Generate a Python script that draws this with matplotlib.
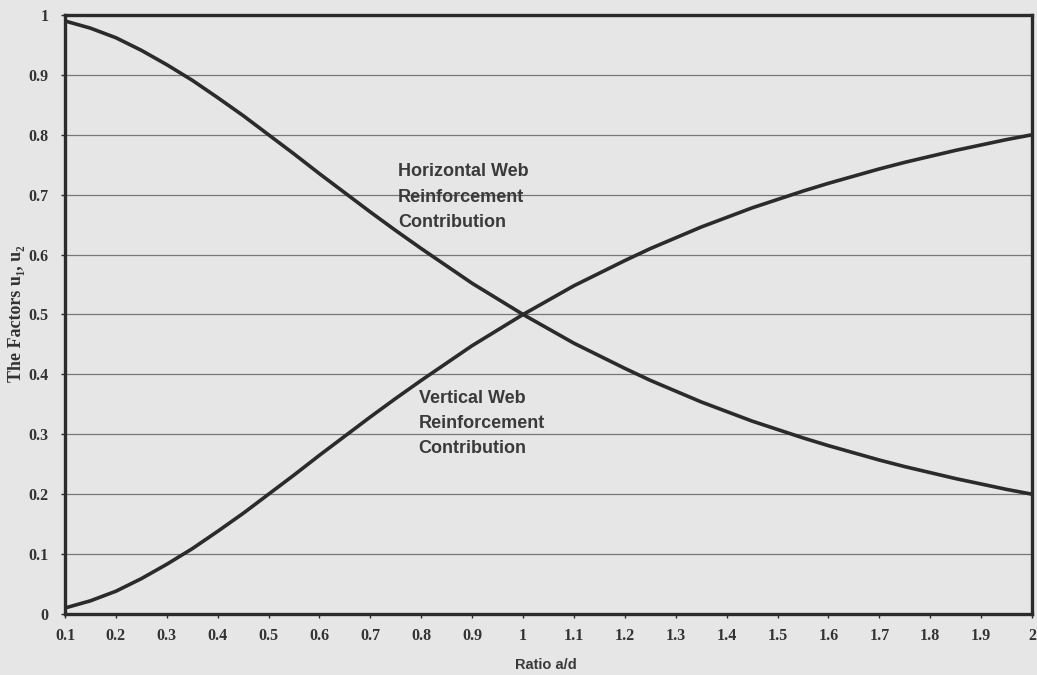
import matplotlib.pyplot as plt

# ratio a/d and the two web reinforcement factors read at each step
ratio = [0.10, 0.15, 0.20, 0.25, 0.30, 0.35, 0.40, 0.45, 0.50, 0.55,
         0.60, 0.65, 0.70, 0.75, 0.80, 0.85, 0.90, 0.95, 1.00, 1.05,
         1.10, 1.15, 1.20, 1.25, 1.30, 1.35, 1.40, 1.45, 1.50, 1.55,
         1.60, 1.65, 1.70, 1.75, 1.80, 1.85, 1.90, 1.95, 2.00]
u1_horizontal = [0.990, 0.978, 0.962, 0.941, 0.917, 0.891, 0.862, 0.832, 0.800, 0.768,
                 0.735, 0.703, 0.671, 0.640, 0.610, 0.581, 0.552, 0.526, 0.500, 0.476,
                 0.452, 0.431, 0.410, 0.390, 0.372, 0.354, 0.338, 0.322, 0.308, 0.294,
                 0.281, 0.269, 0.257, 0.246, 0.236, 0.226, 0.217, 0.208, 0.200]
u2_vertical = [0.010, 0.022, 0.038, 0.059, 0.083, 0.109, 0.138, 0.168, 0.200, 0.232,
               0.265, 0.297, 0.329, 0.360, 0.390, 0.419, 0.448, 0.474, 0.500, 0.524,
               0.548, 0.569, 0.590, 0.610, 0.628, 0.646, 0.662, 0.678, 0.692, 0.706,
               0.719, 0.731, 0.743, 0.754, 0.764, 0.774, 0.783, 0.792, 0.800]

x_ticks = [0.1, 0.2, 0.3, 0.4, 0.5, 0.6, 0.7, 0.8, 0.9, 1.0,
           1.1, 1.2, 1.3, 1.4, 1.5, 1.6, 1.7, 1.8, 1.9, 2.0]
x_labels = ["0.1", "0.2", "0.3", "0.4", "0.5", "0.6", "0.7", "0.8", "0.9", "1",
            "1.1", "1.2", "1.3", "1.4", "1.5", "1.6", "1.7", "1.8", "1.9", "2"]
y_ticks = [0, 0.1, 0.2, 0.3, 0.4, 0.5, 0.6, 0.7, 0.8, 0.9, 1.0]
y_labels = ["0", "0.1", "0.2", "0.3", "0.4", "0.5", "0.6", "0.7", "0.8", "0.9", "1"]

paper = "#e6e6e6"
ink = "#2b2b2b"
serif = ["Liberation Serif", "DejaVu Serif"]
sans = ["Liberation Sans", "DejaVu Sans"]

fig = plt.figure(figsize=(10.37, 6.75), dpi=100, facecolor=paper)
ax = fig.add_axes([0.0627, 0.0904, 0.9325, 0.8874])
ax.set_facecolor(paper)

for yv in y_ticks[1:-1]:
    ax.axhline(yv, color="#777777", lw=0.9, zorder=1)

ax.plot(ratio, u1_horizontal, color=ink, lw=2.6, zorder=3)
ax.plot(ratio, u2_vertical, color=ink, lw=2.6, zorder=3)

ax.set_xlim(0.1, 2.0)
ax.set_ylim(0, 1)
ax.set_xticks(x_ticks)
ax.set_xticklabels(x_labels)
ax.set_yticks(y_ticks)
ax.set_yticklabels(y_labels)
for lbl in ax.get_xticklabels() + ax.get_yticklabels():
    lbl.set_fontfamily(serif)
    lbl.set_fontweight("bold")
    lbl.set_fontsize(11.5)
    lbl.set_color("#333333")
ax.tick_params(axis="both", length=3, width=1, color=ink)
ax.tick_params(axis="x", pad=7)
ax.tick_params(axis="y", pad=9)

for side in ax.spines.values():
    side.set_linewidth(2.4)
    side.set_color(ink)

ax.text(0.754, 0.696, "Horizontal Web\nReinforcement\nContribution",
        family=sans, weight="bold", fontsize=13, color="#3a3a3a",
        ha="left", va="center", linespacing=1.68, zorder=4)
ax.text(0.795, 0.318, "Vertical Web\nReinforcement\nContribution",
        family=sans, weight="bold", fontsize=13, color="#3a3a3a",
        ha="left", va="center", linespacing=1.62, zorder=4)

fig.text(0.016, 0.535, "The Factors u\u2081, u\u2082", family=serif,
         weight="bold", fontsize=13, rotation=90, ha="center", va="center",
         color="#333333")
fig.text(0.497, 0.0148, "Ratio a/d", family=sans, weight="bold",
         fontsize=10.5, ha="left", va="center", color="#3a3a3a")

fig.savefig("out.png", dpi=100, facecolor=paper)
